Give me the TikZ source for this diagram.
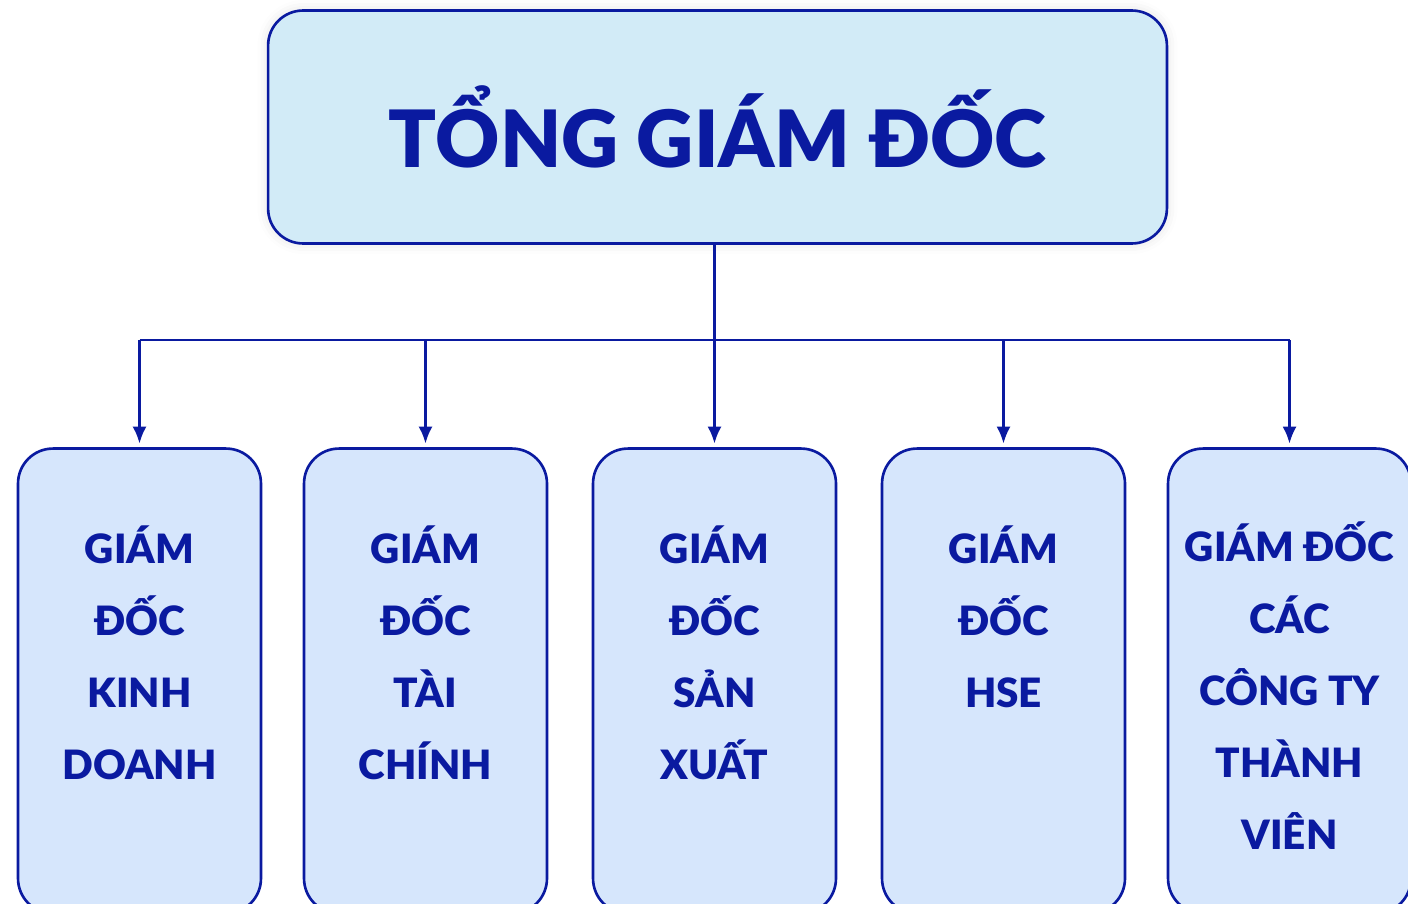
\documentclass[tikz,border=0pt]{standalone}
\usepackage{fontspec}
\setmainfont{Lato}[BoldFont={* Black}]
\usetikzlibrary{arrows.meta,shadows.blur}
\definecolor{navy}{HTML}{0A1AA0}
\definecolor{topfill}{HTML}{D2EBF7}
\definecolor{boxfill}{HTML}{D6E6FC}
\tikzset{
  topbox/.style={draw=navy, line width=1.5pt, fill=topfill, rounded corners=0.7cm,
    minimum width=17.98cm, minimum height=4.66cm,
    blur shadow={shadow xshift=0pt, shadow yshift=0pt, shadow blur radius=6pt, shadow opacity=12}},
  unitbox/.style={draw=navy, line width=1.5pt, fill=boxfill, rounded corners=0.7cm,
    minimum width=4.86cm, minimum height=9.3cm},
  unittext/.style={text=navy, align=center, anchor=north, inner sep=0pt,
    font=\fontsize{23}{41}\selectfont\bfseries},
  arr/.style={draw=navy, line width=1.6pt, -{Latex[length=3.4mm,width=2.8mm]}},
  link/.style={draw=navy, line width=1.6pt}
}
\begin{document}
\begin{tikzpicture}[x=0.02cm, y=-0.02cm]
\useasboundingbox (0,0) rectangle (1408,903);
\clip (0,0) rectangle (1408,903);
% top box
\node[topbox, text=navy, font=\fontsize{45}{50}\selectfont\bfseries] (tgd) at (717.5,127) {TỔNG GIÁM ĐỐC};
% unit boxes
\foreach \n/\x in {1/139.5, 2/425.5, 3/714.5, 4/1003.5, 5/1289.5}
  \node[unitbox] (b\n) at (\x,681) {};
\node[unittext] (t1) at (139.5,525) {GIÁM\\ĐỐC\\KINH\\DOANH};
\node[unittext] (t2) at (425.5,525) {GIÁM\\ĐỐC\\TÀI\\CHÍNH};
\node[unittext] (t3) at (714.5,525) {GIÁM\\ĐỐC\\SẢN\\XUẤT};
\node[unittext] (t4) at (1003.5,525) {GIÁM\\ĐỐC\\HSE};
\node[unittext] (t5) at (1289.5,521) {GIÁM ĐỐC\\CÁC\\CÔNG TY\\THÀNH\\VIÊN};
% connectors
\coordinate (hub) at (714.5,340);
\draw[link] (hub -| b1.north) -- (hub -| b5.north);
\draw[arr, shorten >=2] (b3.north |- tgd.south) -- (b3.north);
\foreach \n in {1,2,4,5}
  \draw[arr, shorten >=2] (hub -| b\n.north) -- (b\n.north);
\end{tikzpicture}
\end{document}
